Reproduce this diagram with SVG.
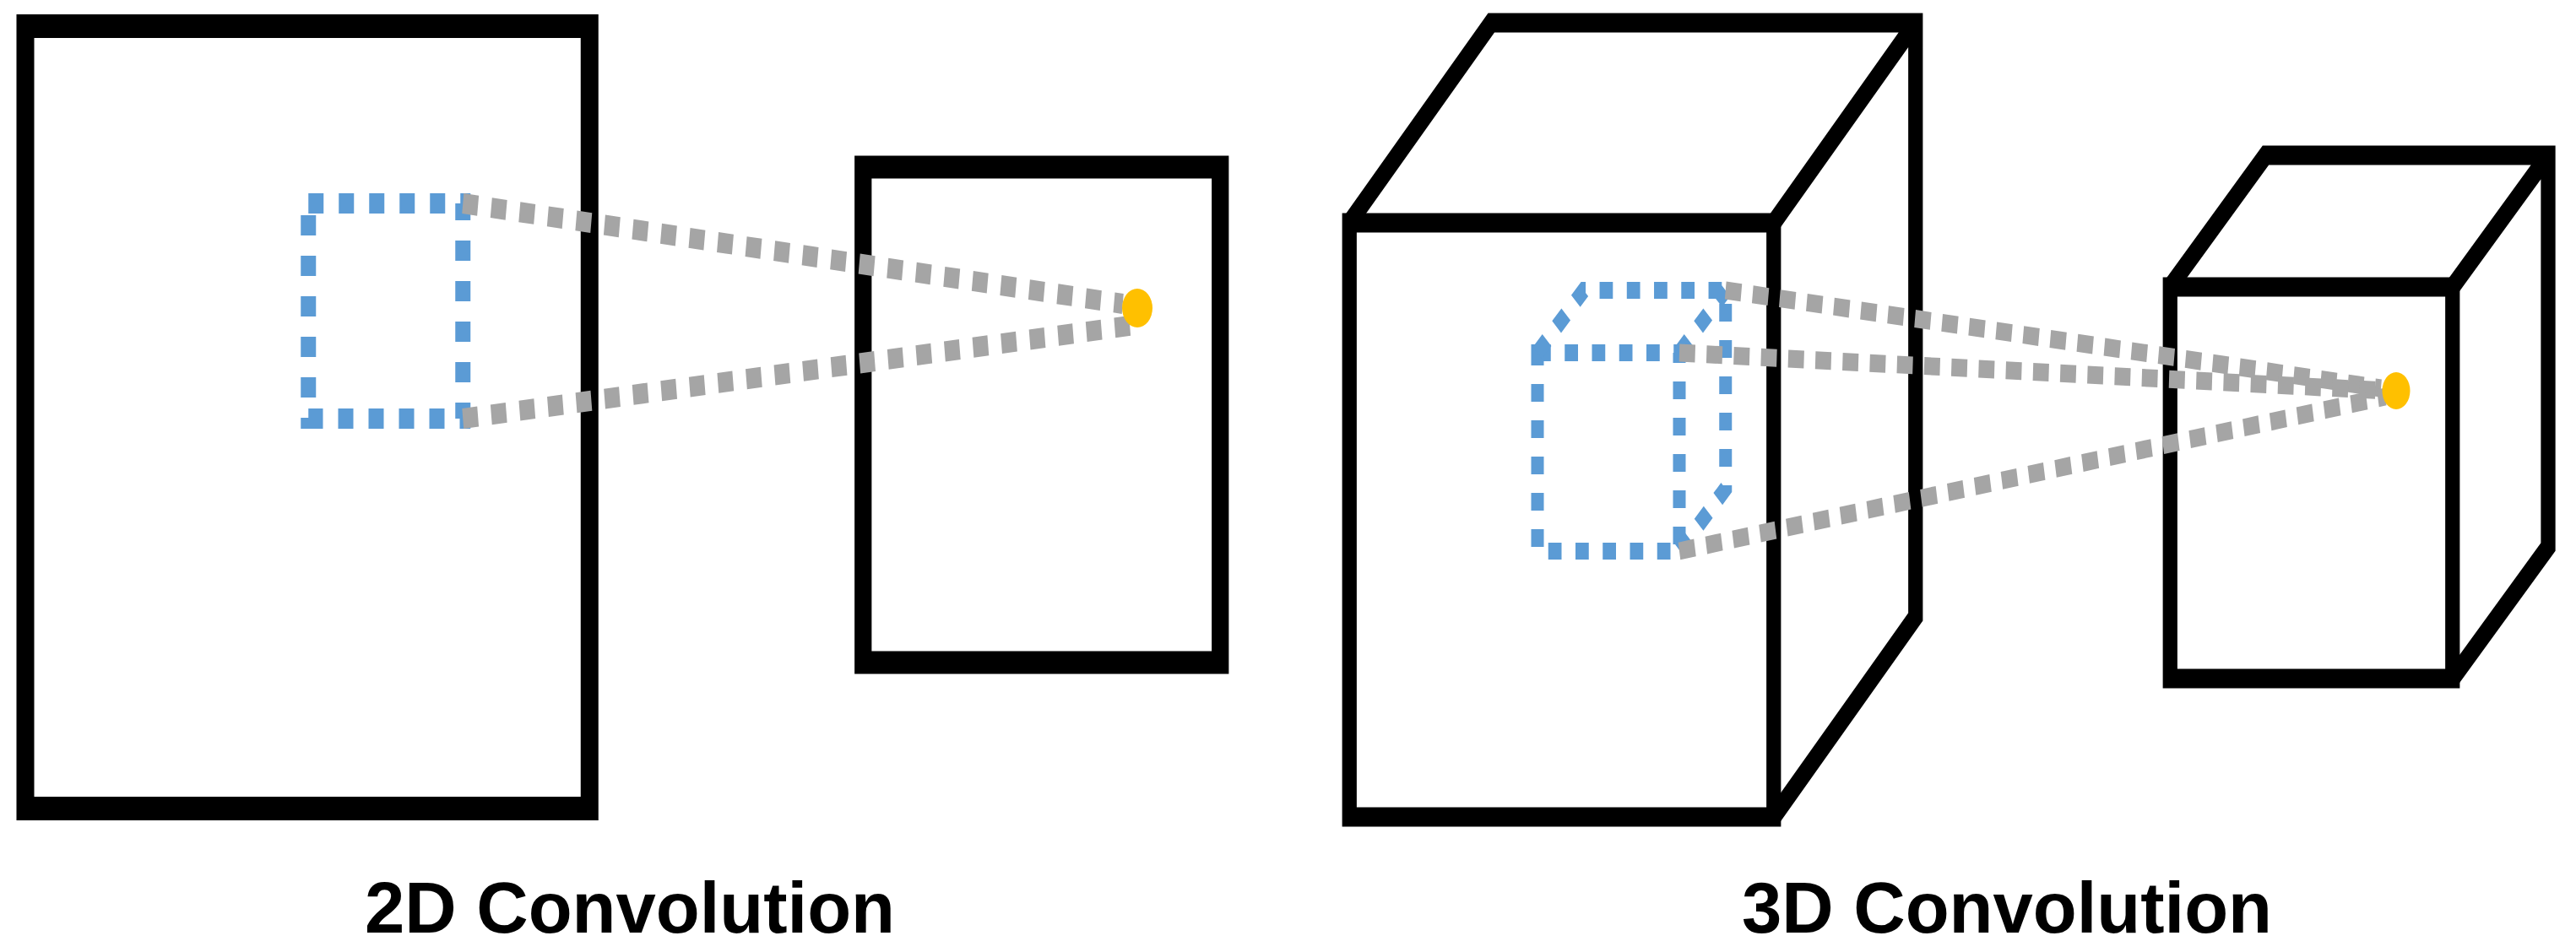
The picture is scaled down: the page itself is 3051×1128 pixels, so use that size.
<svg xmlns="http://www.w3.org/2000/svg" width="3051" height="1128" viewBox="0 0 3051 1128">
<style>
.box{fill:none;stroke:#000;stroke-linejoin:miter}
.blue2{fill:none;stroke:#5B9BD5;stroke-width:24;stroke-dasharray:24 24}
.gray2{fill:none;stroke:#A5A5A5;stroke-width:24;stroke-dasharray:24 21}
.blue3{fill:none;stroke:#5B9BD5;stroke-width:20;stroke-dasharray:21 22}
.gray3{fill:none;stroke:#A5A5A5;stroke-width:21;stroke-dasharray:25 18}
.dot{fill:#FFC000}
.label{font-family:"Liberation Sans",Arial,sans-serif;font-weight:bold;font-size:85px;fill:#000;text-anchor:middle}
</style>
<rect width="3051" height="1128" fill="#fff"/>
<g transform="scale(0.75 1)">
  <g id="input2d">
    <rect class="box" x="40" y="31" width="891" height="927" stroke-width="28"/>
  </g>
  <g id="output2d">
    <rect class="box" x="1363" y="198" width="564" height="587" stroke-width="27"/>
  </g>
  <g id="input3d">
    <rect class="box" x="2131" y="264" width="670" height="704" stroke-width="23"/>
    <path class="box" stroke-width="23" d="M2131,264 L2355,27 L3025,27 L3025,731 L2801,968 M2801,264 L3025,27"/>
  </g>
  <g id="output3d">
    <rect class="box" x="3427" y="340" width="446" height="464" stroke-width="23"/>
    <path class="box" stroke-width="23" d="M3427,340 L3578,184 L4024,184 L4024,648 L3873,804 M3873,340 L4024,184"/>
  </g>
  <g id="kernel2d">
    <rect class="blue2" x="487" y="241" width="244" height="255"/>
  </g>
  <g id="kernel3d">
    <rect class="blue3" x="2428" y="418" width="224" height="235"/>
    <path class="blue3" d="M2428,418 L2501,344 L2725,344 L2725,579 L2652,653 M2652,418 L2725,344"/>
  </g>
  <g id="connectors">
    <path class="gray2" d="M731,241 L1773,360"/>
    <path class="gray2" d="M731,496 L1793,385"/>
    <path class="gray3" d="M2725,344 L3760,460"/>
    <path class="gray3" d="M2652,418 L3767,463"/>
    <path class="gray3" d="M2652,653 L3767,470"/>
  </g>
  <g id="out-pixel2d">
    <ellipse class="dot" cx="1796" cy="365" rx="24" ry="23"/>
  </g>
  <g id="out-pixel3d">
    <ellipse class="dot" cx="3784" cy="463" rx="22" ry="22"/>
  </g>
</g>
<g id="labels">
  <text class="label" x="746" y="1105">2D Convolution</text>
  <text class="label" x="2377" y="1105">3D Convolution</text>
</g>
</svg>
